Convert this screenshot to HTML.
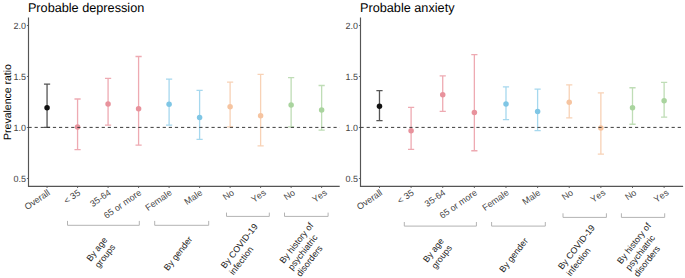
<!DOCTYPE html>
<html><head><meta charset="utf-8"><style>
html,body{margin:0;padding:0;background:#fff;width:685px;height:278px;overflow:hidden}
svg{display:block}
text{font-family:"Liberation Sans", sans-serif;font-kerning:none;text-rendering:geometricPrecision}
</style></head><body>
<svg width="685" height="278" viewBox="0 0 685 278">
<rect width="685" height="278" fill="#fff"/>

<text x="27.9" y="12" font-size="12.7" fill="#000">Probable depression</text>
<path d="M28.5 17.5 V186.4 H339.7" fill="none" stroke="#555555" stroke-width="1.15"/>
<line x1="26.9" y1="25.50" x2="28.5" y2="25.50" stroke="#555" stroke-width="0.9"/>
<text x="25.9" y="28.80" font-size="9.0" fill="#444444" text-anchor="end">2.0</text>
<line x1="26.9" y1="76.50" x2="28.5" y2="76.50" stroke="#555" stroke-width="0.9"/>
<text x="25.9" y="79.80" font-size="9.0" fill="#444444" text-anchor="end">1.5</text>
<line x1="26.9" y1="127.50" x2="28.5" y2="127.50" stroke="#555" stroke-width="0.9"/>
<text x="25.9" y="130.80" font-size="9.0" fill="#444444" text-anchor="end">1.0</text>
<line x1="26.9" y1="178.50" x2="28.5" y2="178.50" stroke="#555" stroke-width="0.9"/>
<text x="25.9" y="181.80" font-size="9.0" fill="#444444" text-anchor="end">0.5</text>
<line x1="47.06" y1="186.4" x2="47.06" y2="188.0" stroke="#555" stroke-width="0.9"/>
<text transform="translate(50.56,194.00) rotate(-35)" font-size="9" fill="#444444" text-anchor="end">Overall</text>
<line x1="77.57" y1="186.4" x2="77.57" y2="188.0" stroke="#555" stroke-width="0.9"/>
<text transform="translate(81.07,194.00) rotate(-35)" font-size="9" fill="#444444" text-anchor="end">&lt; 35</text>
<line x1="108.08" y1="186.4" x2="108.08" y2="188.0" stroke="#555" stroke-width="0.9"/>
<text transform="translate(111.58,194.00) rotate(-35)" font-size="9" fill="#444444" text-anchor="end">35-64</text>
<line x1="138.59" y1="186.4" x2="138.59" y2="188.0" stroke="#555" stroke-width="0.9"/>
<text transform="translate(142.09,194.00) rotate(-35)" font-size="9" fill="#444444" text-anchor="end">65 or more</text>
<line x1="169.10" y1="186.4" x2="169.10" y2="188.0" stroke="#555" stroke-width="0.9"/>
<text transform="translate(172.60,194.00) rotate(-35)" font-size="9" fill="#444444" text-anchor="end">Female</text>
<line x1="199.60" y1="186.4" x2="199.60" y2="188.0" stroke="#555" stroke-width="0.9"/>
<text transform="translate(203.10,194.00) rotate(-35)" font-size="9" fill="#444444" text-anchor="end">Male</text>
<line x1="230.11" y1="186.4" x2="230.11" y2="188.0" stroke="#555" stroke-width="0.9"/>
<text transform="translate(234.81,194.00) rotate(-35)" font-size="9" fill="#444444" text-anchor="end">No</text>
<line x1="260.62" y1="186.4" x2="260.62" y2="188.0" stroke="#555" stroke-width="0.9"/>
<text transform="translate(266.62,194.00) rotate(-35)" font-size="9" fill="#444444" text-anchor="end">Yes</text>
<line x1="291.13" y1="186.4" x2="291.13" y2="188.0" stroke="#555" stroke-width="0.9"/>
<text transform="translate(295.83,194.00) rotate(-35)" font-size="9" fill="#444444" text-anchor="end">No</text>
<line x1="321.64" y1="186.4" x2="321.64" y2="188.0" stroke="#555" stroke-width="0.9"/>
<text transform="translate(327.64,194.00) rotate(-35)" font-size="9" fill="#444444" text-anchor="end">Yes</text>
<path d="M43.96 84.1 H50.16 M47.06 84.1 V127.3 M43.96 127.3 H50.16" fill="none" stroke="#555555" stroke-width="1.3"/>
<circle cx="47.06" cy="107.8" r="2.75" fill="#111111"/>
<path d="M74.47 99.0 H80.67 M77.57 99.0 V149.7 M74.47 149.7 H80.67" fill="none" stroke="#eeaab2" stroke-width="1.3"/>
<circle cx="77.57" cy="126.9" r="2.75" fill="#e8929c"/>
<path d="M104.98 78.4 H111.18 M108.08 78.4 V125.1 M104.98 125.1 H111.18" fill="none" stroke="#eeaab2" stroke-width="1.3"/>
<circle cx="108.08" cy="103.9" r="2.75" fill="#e8929c"/>
<path d="M135.49 56.5 H141.69 M138.59 56.5 V145.1 M135.49 145.1 H141.69" fill="none" stroke="#eeaab2" stroke-width="1.3"/>
<circle cx="138.59" cy="108.75" r="2.75" fill="#e8929c"/>
<path d="M166.00 79.2 H172.20 M169.10 79.2 V125.2 M166.00 125.2 H172.20" fill="none" stroke="#a6d8ee" stroke-width="1.3"/>
<circle cx="169.10" cy="104.2" r="2.75" fill="#7fc6e5"/>
<path d="M196.50 90.4 H202.70 M199.60 90.4 V139.4 M196.50 139.4 H202.70" fill="none" stroke="#a6d8ee" stroke-width="1.3"/>
<circle cx="199.60" cy="117.4" r="2.75" fill="#7fc6e5"/>
<path d="M227.01 82.2 H233.21 M230.11 82.2 V126.8 M227.01 126.8 H233.21" fill="none" stroke="#f8d2b6" stroke-width="1.3"/>
<circle cx="230.11" cy="106.8" r="2.75" fill="#f6c4a0"/>
<path d="M257.52 74.4 H263.72 M260.62 74.4 V145.9 M257.52 145.9 H263.72" fill="none" stroke="#f8d2b6" stroke-width="1.3"/>
<circle cx="260.62" cy="115.7" r="2.75" fill="#f6c4a0"/>
<path d="M288.03 77.6 H294.23 M291.13 77.6 V126.8 M288.03 126.8 H294.23" fill="none" stroke="#bfddb6" stroke-width="1.3"/>
<circle cx="291.13" cy="104.9" r="2.75" fill="#a9d49e"/>
<path d="M318.54 85.5 H324.74 M321.64 85.5 V130.2 M318.54 130.2 H324.74" fill="none" stroke="#bfddb6" stroke-width="1.3"/>
<circle cx="321.64" cy="110.0" r="2.75" fill="#a9d49e"/>
<line x1="28.5" y1="127.4" x2="339.7" y2="127.4" stroke="#333" stroke-width="0.95" stroke-dasharray="3.2 2.9"/>
<path d="M67.5 220.9 V225.3 H139.3 V220.9" fill="none" stroke="#b3b3b3" stroke-width="1"/>
<path d="M154.7 220.9 V225.3 H208.7 V220.9" fill="none" stroke="#b3b3b3" stroke-width="1"/>
<path d="M226.5 212.6 V216.4 H269.3 V212.6" fill="none" stroke="#b3b3b3" stroke-width="1"/>
<path d="M284.5 212.6 V216.4 H328.1 V212.6" fill="none" stroke="#b3b3b3" stroke-width="1"/>
<text transform="translate(90.70,262.00) rotate(-52)" font-size="8.9" fill="#1a1a1a">By age</text>
<text transform="translate(99.05,268.53) rotate(-52)" font-size="8.9" fill="#1a1a1a">groups</text>
<text transform="translate(168.00,271.20) rotate(-52)" font-size="8.9" fill="#1a1a1a">By gender</text>
<text transform="translate(225.10,269.00) rotate(-52)" font-size="8.9" fill="#1a1a1a">By COVID-19</text>
<text transform="translate(233.45,275.53) rotate(-52)" font-size="8.9" fill="#1a1a1a">infection</text>
<text transform="translate(283.80,264.10) rotate(-52)" font-size="8.9" fill="#1a1a1a">By history of</text>
<text transform="translate(292.15,270.63) rotate(-52)" font-size="8.9" fill="#1a1a1a">psychiatric</text>
<text transform="translate(300.51,277.15) rotate(-52)" font-size="8.9" fill="#1a1a1a">disorders</text>
<text x="360.0" y="12" font-size="12.7" fill="#000">Probable anxiety</text>
<path d="M360.5 17.5 V186.4 H683.1" fill="none" stroke="#555555" stroke-width="1.15"/>
<line x1="358.9" y1="25.50" x2="360.5" y2="25.50" stroke="#555" stroke-width="0.9"/>
<text x="357.9" y="28.80" font-size="9.0" fill="#444444" text-anchor="end">2.0</text>
<line x1="358.9" y1="76.50" x2="360.5" y2="76.50" stroke="#555" stroke-width="0.9"/>
<text x="357.9" y="79.80" font-size="9.0" fill="#444444" text-anchor="end">1.5</text>
<line x1="358.9" y1="127.50" x2="360.5" y2="127.50" stroke="#555" stroke-width="0.9"/>
<text x="357.9" y="130.80" font-size="9.0" fill="#444444" text-anchor="end">1.0</text>
<line x1="358.9" y1="178.50" x2="360.5" y2="178.50" stroke="#555" stroke-width="0.9"/>
<text x="357.9" y="181.80" font-size="9.0" fill="#444444" text-anchor="end">0.5</text>
<line x1="379.48" y1="186.4" x2="379.48" y2="188.0" stroke="#555" stroke-width="0.9"/>
<text transform="translate(382.98,194.00) rotate(-35)" font-size="9" fill="#444444" text-anchor="end">Overall</text>
<line x1="411.10" y1="186.4" x2="411.10" y2="188.0" stroke="#555" stroke-width="0.9"/>
<text transform="translate(414.60,194.00) rotate(-35)" font-size="9" fill="#444444" text-anchor="end">&lt; 35</text>
<line x1="442.73" y1="186.4" x2="442.73" y2="188.0" stroke="#555" stroke-width="0.9"/>
<text transform="translate(446.23,194.00) rotate(-35)" font-size="9" fill="#444444" text-anchor="end">35-64</text>
<line x1="474.36" y1="186.4" x2="474.36" y2="188.0" stroke="#555" stroke-width="0.9"/>
<text transform="translate(477.86,194.00) rotate(-35)" font-size="9" fill="#444444" text-anchor="end">65 or more</text>
<line x1="505.99" y1="186.4" x2="505.99" y2="188.0" stroke="#555" stroke-width="0.9"/>
<text transform="translate(509.49,194.00) rotate(-35)" font-size="9" fill="#444444" text-anchor="end">Female</text>
<line x1="537.61" y1="186.4" x2="537.61" y2="188.0" stroke="#555" stroke-width="0.9"/>
<text transform="translate(541.11,194.00) rotate(-35)" font-size="9" fill="#444444" text-anchor="end">Male</text>
<line x1="569.24" y1="186.4" x2="569.24" y2="188.0" stroke="#555" stroke-width="0.9"/>
<text transform="translate(573.84,194.00) rotate(-35)" font-size="9" fill="#444444" text-anchor="end">No</text>
<line x1="600.87" y1="186.4" x2="600.87" y2="188.0" stroke="#555" stroke-width="0.9"/>
<text transform="translate(606.07,194.00) rotate(-35)" font-size="9" fill="#444444" text-anchor="end">Yes</text>
<line x1="632.50" y1="186.4" x2="632.50" y2="188.0" stroke="#555" stroke-width="0.9"/>
<text transform="translate(637.10,194.00) rotate(-35)" font-size="9" fill="#444444" text-anchor="end">No</text>
<line x1="664.12" y1="186.4" x2="664.12" y2="188.0" stroke="#555" stroke-width="0.9"/>
<text transform="translate(669.32,194.00) rotate(-35)" font-size="9" fill="#444444" text-anchor="end">Yes</text>
<path d="M376.38 90.55 H382.58 M379.48 90.55 V120.55 M376.38 120.55 H382.58" fill="none" stroke="#555555" stroke-width="1.3"/>
<circle cx="379.48" cy="106.35" r="2.75" fill="#111111"/>
<path d="M408.00 107.44999999999999 H414.20 M411.10 107.44999999999999 V149.35 M408.00 149.35 H414.20" fill="none" stroke="#eeaab2" stroke-width="1.3"/>
<circle cx="411.10" cy="130.65" r="2.75" fill="#e8929c"/>
<path d="M439.63 75.94999999999999 H445.83 M442.73 75.94999999999999 V111.44999999999999 M439.63 111.44999999999999 H445.83" fill="none" stroke="#eeaab2" stroke-width="1.3"/>
<circle cx="442.73" cy="94.85" r="2.75" fill="#e8929c"/>
<path d="M471.26 54.65 H477.46 M474.36 54.65 V150.75 M471.26 150.75 H477.46" fill="none" stroke="#eeaab2" stroke-width="1.3"/>
<circle cx="474.36" cy="112.44999999999999" r="2.75" fill="#e8929c"/>
<path d="M502.89 86.85 H509.09 M505.99 86.85 V119.55 M502.89 119.55 H509.09" fill="none" stroke="#a6d8ee" stroke-width="1.3"/>
<circle cx="505.99" cy="103.94999999999999" r="2.75" fill="#7fc6e5"/>
<path d="M534.51 89.14999999999999 H540.71 M537.61 89.14999999999999 V130.54999999999998 M534.51 130.54999999999998 H540.71" fill="none" stroke="#a6d8ee" stroke-width="1.3"/>
<circle cx="537.61" cy="111.44999999999999" r="2.75" fill="#7fc6e5"/>
<path d="M566.14 84.94999999999999 H572.34 M569.24 84.94999999999999 V117.85 M566.14 117.85 H572.34" fill="none" stroke="#f8d2b6" stroke-width="1.3"/>
<circle cx="569.24" cy="102.35" r="2.75" fill="#f6c4a0"/>
<path d="M597.77 92.94999999999999 H603.97 M600.87 92.94999999999999 V154.15 M597.77 154.15 H603.97" fill="none" stroke="#f8d2b6" stroke-width="1.3"/>
<circle cx="600.87" cy="127.94999999999999" r="2.75" fill="#f6c4a0"/>
<path d="M629.40 87.75 H635.60 M632.50 87.75 V124.25 M629.40 124.25 H635.60" fill="none" stroke="#bfddb6" stroke-width="1.3"/>
<circle cx="632.50" cy="107.64999999999999" r="2.75" fill="#a9d49e"/>
<path d="M661.02 82.44999999999999 H667.22 M664.12 82.44999999999999 V117.14999999999999 M661.02 117.14999999999999 H667.22" fill="none" stroke="#bfddb6" stroke-width="1.3"/>
<circle cx="664.12" cy="100.85" r="2.75" fill="#a9d49e"/>
<line x1="360.5" y1="127.4" x2="683.1" y2="127.4" stroke="#333" stroke-width="0.95" stroke-dasharray="3.2 2.9"/>
<path d="M404.3 222.0 V226.1 H476.4 V222.0" fill="none" stroke="#b3b3b3" stroke-width="1"/>
<path d="M491.6 222.0 V226.1 H545.3 V222.0" fill="none" stroke="#b3b3b3" stroke-width="1"/>
<path d="M563.0 213.3 V217.4 H606.4 V213.3" fill="none" stroke="#b3b3b3" stroke-width="1"/>
<path d="M621.4 213.3 V217.4 H664.7 V213.3" fill="none" stroke="#b3b3b3" stroke-width="1"/>
<text transform="translate(427.35,262.90) rotate(-52)" font-size="8.9" fill="#1a1a1a">By age</text>
<text transform="translate(435.70,269.43) rotate(-52)" font-size="8.9" fill="#1a1a1a">groups</text>
<text transform="translate(503.55,272.90) rotate(-52)" font-size="8.9" fill="#1a1a1a">By gender</text>
<text transform="translate(562.30,270.10) rotate(-52)" font-size="8.9" fill="#1a1a1a">By COVID-19</text>
<text transform="translate(570.65,276.63) rotate(-52)" font-size="8.9" fill="#1a1a1a">infection</text>
<text transform="translate(621.35,264.40) rotate(-52)" font-size="8.9" fill="#1a1a1a">By history of</text>
<text transform="translate(629.70,270.93) rotate(-52)" font-size="8.9" fill="#1a1a1a">psychiatric</text>
<text transform="translate(638.06,277.45) rotate(-52)" font-size="8.9" fill="#1a1a1a">disorders</text>
<text transform="translate(11.4,102) rotate(-90)" font-size="10.5" fill="#000" text-anchor="middle">Prevalence ratio</text>
</svg></body></html>
